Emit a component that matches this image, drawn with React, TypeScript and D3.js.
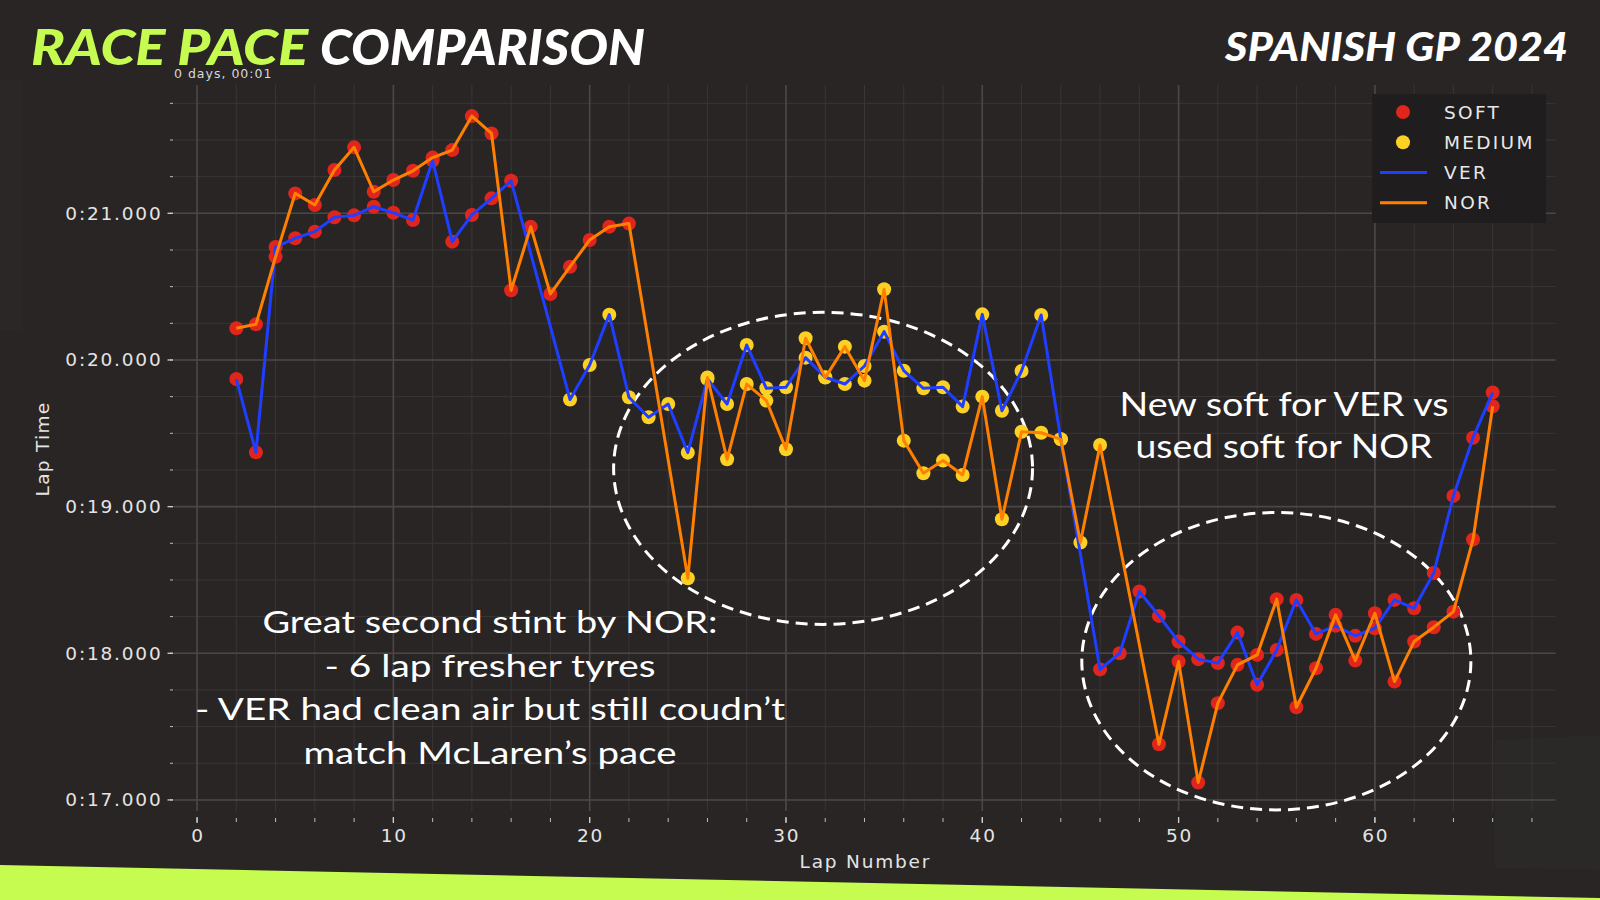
import React from 'react';
import * as d3 from 'd3';

const W = 1600;
const H = 900;

// ---------------- DATA ----------------
const verLaps = [2,3,4,5,6,7,8,9,10,11,12,13,14,15,16,19,20,21,22,23,24,25,26,27,28,29,30,31,32,33,34,35,36,37,38,39,40,41,42,43,44,46,47,48,49,50,51,52,53,54,55,56,57,58,59,60,61,62,63,64,65,66];
const verTimes = [19.87,19.37,20.77,20.83,20.875,20.973,20.986,21.045,21.004,20.954,21.36,20.807,20.989,21.102,21.222,19.73,19.966,20.309,19.746,19.609,19.70,19.368,19.87,19.70,20.102,19.807,19.814,20.016,19.882,19.836,19.959,20.193,19.927,19.807,19.814,19.682,20.311,19.654,19.925,20.307,19.46,17.89,18.0,18.421,18.255,18.08,17.96,17.933,18.141,17.785,18.023,18.364,18.132,18.187,18.119,18.171,18.364,18.307,18.548,19.073,19.47,19.778];
const verStints = [
  { compound: 'SOFT', from: 2, to: 16 },
  { compound: 'MEDIUM', from: 19, to: 44 },
  { compound: 'SOFT', from: 46, to: 66 },
];

const norLaps = [2,3,4,5,6,7,8,9,10,11,12,13,14,15,16,17,18,19,20,21,22,25,26,27,28,29,30,31,32,33,34,35,36,37,38,39,40,41,42,43,44,45,46,49,50,51,52,53,54,55,56,57,58,59,60,61,62,63,64,65,66];
const norTimes = [20.216,20.243,20.704,21.136,21.057,21.295,21.45,21.147,21.227,21.29,21.38,21.431,21.663,21.545,20.475,20.909,20.45,20.636,20.818,20.909,20.93,18.512,19.88,19.323,19.836,19.723,19.391,20.148,19.88,20.091,19.859,20.482,19.45,19.228,19.314,19.216,19.75,18.914,19.511,19.504,19.459,18.755,19.42,17.38,17.944,17.119,17.66,17.921,17.989,18.369,17.632,17.898,18.262,17.95,18.273,17.807,18.08,18.178,18.284,18.776,19.684];
const norStints = [
  { compound: 'SOFT', from: 2, to: 22 },
  { compound: 'MEDIUM', from: 25, to: 46 },
  { compound: 'SOFT', from: 49, to: 66 },
];

const xMajorTicks = [0, 10, 20, 30, 40, 50, 60];
const xMinorTicks = [0,2,4,6,8,10,12,14,16,18,20,22,24,26,28,30,32,34,36,38,40,42,44,46,48,50,52,54,56,58,60,62,64,66,68];
const yMajorTicks = [17, 18, 19, 20, 21];
const yMinorTicks = [17,17.25,17.5,17.75,18,18.25,18.5,18.75,19,19.25,19.5,19.75,20,20.25,20.5,20.75,21,21.25,21.5,21.75];

const legendMarkers = ['SOFT', 'MEDIUM'];
const legendLines = ['VER', 'NOR'];

const noteLeft = [
  'Great second stint by NOR:',
  '- 6 lap fresher tyres',
  '- VER had clean air but still coudn\u2019t',
  'match McLaren\u2019s pace',
];
const noteLeftWidths = [455, 331, 590, 373];
const noteRight = ['New soft for VER vs', 'used soft for NOR'];
const noteRightWidths = [329, 297];

// ellipses in data units: centre lap, centre time, half-width (laps), half-height (s)
const ellipses = [
  { lap: 31.89, time: 19.261, rLap: 10.67, rTime: 1.064 },
  { lap: 54.98, time: 17.946, rLap: 9.91, rTime: 1.014 },
];

// ---------------- STYLE ----------------
const BG = '#292525';
const LIME = '#c6fb50';
const compoundColor: Record<string, string> = { SOFT: '#e0261c', MEDIUM: '#fdd124' };
const driverColor: Record<string, string> = { VER: '#1f3eff', NOR: '#ff8000' };
const TICK_FONT = 'DejaVu Sans, sans-serif';
const NOTE_FONT = 'Lato, sans-serif';

function compoundOf(stints: { compound: string; from: number; to: number }[], lap: number) {
  const s = stints.find((st) => lap >= st.from && lap <= st.to);
  return s ? s.compound : 'SOFT';
}

function fmt(v: number) {
  return '0:' + v.toFixed(3);
}

export default function App() {
  const x = d3.scaleLinear().domain([-1.2, 69.2]).range([173.5, 1555.5]);
  const y = d3.scaleLinear().domain([16.87, 21.875]).range([819, 85]);

  const ver = verLaps.map((l, i) => ({ lap: l, t: verTimes[i], c: compoundOf(verStints, l) }));
  const nor = norLaps.map((l, i) => ({ lap: l, t: norTimes[i], c: compoundOf(norStints, l) }));

  const line = d3
    .line<{ lap: number; t: number }>()
    .x((d) => x(d.lap))
    .y((d) => y(d.t));

  const [x0, x1] = x.range();
  const [yb, yt] = y.range();

  return (
    <svg
      width={W}
      height={H}
      viewBox={`0 0 ${W} ${H}`}
      style={{ position: 'absolute', left: 0, top: 0, display: 'block' }}
    >
      <rect x={0} y={0} width={W} height={H} fill={BG} />
      {/* subtle background shapes */}
      <polygon points="0,80 22,80 22,330 0,330" fill="#2b2727" />
      <polygon points="1495,740 1600,735 1600,870 1495,868" fill="#2b2828" />

      {/* grid */}
      <g>
        {yMinorTicks.map((v) => (
          <line key={'ym' + v} x1={x0} x2={x1} y1={y(v)} y2={y(v)} stroke="#3a3636" strokeWidth={1} />
        ))}
        {xMinorTicks.map((v) => (
          <line key={'xm' + v} x1={x(v)} x2={x(v)} y1={yt} y2={yb - 8} stroke="#3a3636" strokeWidth={1} />
        ))}
        {yMajorTicks.map((v) => (
          <line key={'yM' + v} x1={x0} x2={x1} y1={y(v)} y2={y(v)} stroke="#4b4747" strokeWidth={1.6} />
        ))}
        {xMajorTicks.map((v) => (
          <line key={'xM' + v} x1={x(v)} x2={x(v)} y1={yt} y2={yb - 8} stroke="#4b4747" strokeWidth={1.6} />
        ))}
      </g>

      {/* y ticks */}
      <g>
        {yMinorTicks.map((v) => (
          <line key={'ytm' + v} x1={x0 - 3.5} x2={x0 - 0.5} y1={y(v)} y2={y(v)} stroke="#bdbdbd" strokeWidth={1} />
        ))}
        {yMajorTicks.map((v) => (
          <g key={'ytM' + v}>
            <line x1={x0 - 6} x2={x0 - 0.5} y1={y(v)} y2={y(v)} stroke="#d0d0d0" strokeWidth={1.3} />
            <text
              x={x0 - 11}
              y={y(v)}
              dy="0.35em"
              textAnchor="end"
              fontFamily={TICK_FONT}
              fontSize={18.5}
              letterSpacing={1.8}
              fill="#e4e4e4"
            >
              {fmt(v)}
            </text>
          </g>
        ))}
      </g>

      {/* x ticks */}
      <g>
        {xMinorTicks.map((v) => (
          <line key={'xtm' + v} x1={x(v)} x2={x(v)} y1={yb - 1} y2={yb + 3} stroke="#bdbdbd" strokeWidth={1} />
        ))}
        {xMajorTicks.map((v) => (
          <g key={'xtM' + v}>
            <line x1={x(v)} x2={x(v)} y1={yb - 2} y2={yb + 4} stroke="#d0d0d0" strokeWidth={1.3} />
            <text
              x={x(v) + 0.9}
              y={yb + 17}
              dy="0.35em"
              textAnchor="middle"
              fontFamily={TICK_FONT}
              fontSize={18.5}
              letterSpacing={1.8}
              fill="#e4e4e4"
            >
              {v}
            </text>
          </g>
        ))}
      </g>

      {/* axis labels */}
      <text
        x={(x(0) + x(68)) / 2 + 0.9}
        y={868}
        textAnchor="middle"
        fontFamily={TICK_FONT}
        fontSize={18.5}
        letterSpacing={1.8}
        fill="#e4e4e4"
      >
        Lap Number
      </text>
      <text
        transform="translate(49,449) rotate(-90)"
        textAnchor="middle"
        fontFamily={TICK_FONT}
        fontSize={18.5}
        letterSpacing={1.3}
        fill="#e4e4e4"
      >
        Lap Time
      </text>
      <text x={174} y={78} fontFamily={TICK_FONT} fontSize={12.5} letterSpacing={1} fill="#d8d8d8">
        0 days, 00:01
      </text>

      {/* ellipses */}
      {ellipses.map((e, i) => (
        <ellipse
          key={'el' + i}
          cx={x(e.lap)}
          cy={y(e.time)}
          rx={x(e.lap + e.rLap) - x(e.lap)}
          ry={y(e.time - e.rTime) - y(e.time)}
          fill="none"
          stroke="#ffffff"
          strokeWidth={3}
          strokeDasharray="12 7"
        />
      ))}

      {/* scatter */}
      <g>
        {ver.concat(nor).map((d, i) => (
          <circle key={'p' + i} cx={x(d.lap)} cy={y(d.t)} r={7} fill={compoundColor[d.c]} />
        ))}
      </g>

      {/* lines */}
      <path d={line(ver) || ''} fill="none" stroke={driverColor.VER} strokeWidth={3} strokeLinejoin="round" />
      <path d={line(nor) || ''} fill="none" stroke={driverColor.NOR} strokeWidth={3} strokeLinejoin="round" />

      {/* annotations */}
      {noteLeft.map((t, i) => (
        <text
          key={'nl' + i}
          x={490 - noteLeftWidths[i] / 2}
          y={633 + i * 43.5}
          fontFamily={NOTE_FONT}
          fontSize={31}
          fill="#ffffff"
          textLength={noteLeftWidths[i]}
          lengthAdjust="spacingAndGlyphs"
        >
          {t}
        </text>
      ))}
      {noteRight.map((t, i) => (
        <text
          key={'nr' + i}
          x={1284 - noteRightWidths[i] / 2}
          y={415.7 + i * 42.6}
          fontFamily={NOTE_FONT}
          fontSize={32}
          fill="#ffffff"
          textLength={noteRightWidths[i]}
          lengthAdjust="spacingAndGlyphs"
        >
          {t}
        </text>
      ))}

      {/* legend */}
      <g>
        <rect x={1372} y={94} width={174} height={129} fill="#1f1d1d" />
        {legendMarkers.map((m, i) => (
          <g key={'lm' + m}>
            <circle cx={1403} cy={112 + i * 30.3} r={7} fill={compoundColor[m]} />
            <text
              x={1444}
              y={112 + i * 30.3}
              dy="0.36em"
              fontFamily={TICK_FONT}
              fontSize={18.5}
              letterSpacing={2.3}
              fill="#e8e8e8"
            >
              {m}
            </text>
          </g>
        ))}
        {legendLines.map((m, i) => (
          <g key={'ll' + m}>
            <line x1={1380} x2={1427} y1={172.5 + i * 30.3} y2={172.5 + i * 30.3} stroke={driverColor[m]} strokeWidth={3} />
            <text
              x={1444}
              y={172.5 + i * 30.3}
              dy="0.36em"
              fontFamily={TICK_FONT}
              fontSize={18.5}
              letterSpacing={2.3}
              fill="#e8e8e8"
            >
              {m}
            </text>
          </g>
        ))}
      </g>

      {/* titles */}
      <text x={31} y={65} fontFamily="Lato, sans-serif" fontWeight={900} fontStyle="italic" fontSize={50} fill={LIME} textLength={277} lengthAdjust="spacingAndGlyphs">
        RACE PACE
      </text>
      <text x={320} y={65} fontFamily="Lato, sans-serif" fontWeight={900} fontStyle="italic" fontSize={50} fill="#ffffff" textLength={325} lengthAdjust="spacingAndGlyphs">
        COMPARISON
      </text>
      <text x={1225} y={61} fontFamily="Lato, sans-serif" fontWeight={900} fontStyle="italic" fontSize={39} fill="#ffffff" textLength={343} lengthAdjust="spacingAndGlyphs">
        SPANISH GP 2024
      </text>

      {/* bottom band */}
      <polygon points="0,865 1600,898 1600,900 0,900" fill={LIME} />
    </svg>
  );
}
